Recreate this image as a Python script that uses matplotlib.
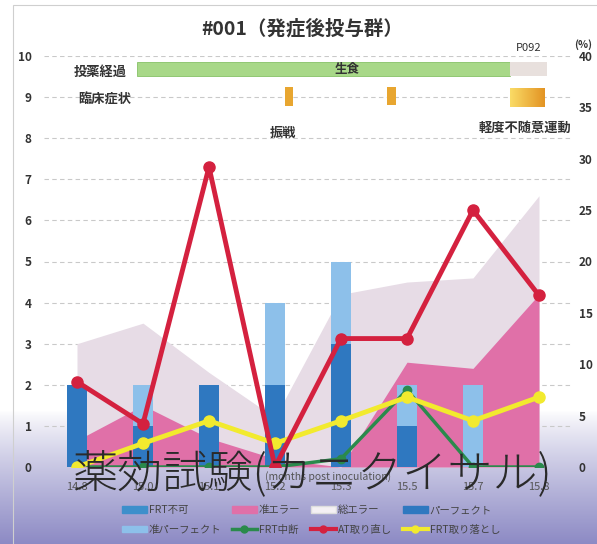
import numpy as np
import matplotlib.pyplot as plt
from matplotlib.patches import Patch, Rectangle
from matplotlib.lines import Line2D

plt.rcParams['font.family'] = ['Noto Sans CJK JP', 'DejaVu Sans']

# x categories (months post inoculation)
categories = ['14.8', '15.0', '15.1', '15.2', '15.3', '15.5', '15.7', '15.8']

# bars / areas (left axis, counts)
frt_fuka = [0, 0, 0, 0, 0, 0, 0, 0]
perfect = [2, 1, 2, 2, 3, 1, 0, 0]
jun_perfect = [0, 1, 0, 2, 2, 1, 2, 0]
total_error = [3.0, 3.5, 2.3, 1.2, 4.2, 4.5, 4.6, 6.6]
jun_error = [0.65, 1.5, 0.7, 0.2, 0.0, 2.55, 2.4, 4.2]

# lines (right axis, %)
frt_stop = [0, 0, 0, 0, 0.8, 7.5, 0, 0]
at_retake = [8.3, 4.2, 29.2, 0, 12.5, 12.5, 25.0, 16.7]
frt_drop = [0, 2.3, 4.5, 2.3, 4.5, 6.8, 4.5, 6.8]

W, H = 597, 544
def px(x, y):
    return x / W, 1 - y / H

fig = plt.figure(figsize=(W / 100, H / 100), dpi=100)

# background wash (scan-like gradient at the bottom)
bg = fig.add_axes([0, 0, 1, 1], zorder=-1)
rows = np.arange(H)
t = np.clip((rows - 410) / (H - 410), 0, 1) ** 0.85
top = np.array([1.0, 1.0, 1.0])
bot = np.array([0.55, 0.54, 0.77])
grad = (top[None, :] * (1 - t[:, None]) + bot[None, :] * t[:, None])[:, None, :]
bg.imshow(grad, aspect='auto', extent=[0, 1, 0, 1])
bg.axis('off')

ax = fig.add_axes([44 / W, (H - 467) / H, 528 / W, 411 / H])
ax.set_facecolor('none')
x = np.arange(len(categories))

ax.fill_between(x, total_error, color='#e7dce6', lw=0, zorder=1)
ax.fill_between(x, jun_error, color='#e070a8', lw=0, zorder=2)
ax.bar(x, perfect, 0.3, color='#2f78c0', zorder=3)
ax.bar(x, jun_perfect, 0.3, bottom=perfect, color='#8dc0ea', zorder=3)
ax.bar(x, frt_fuka, 0.3, bottom=np.add(perfect, jun_perfect), color='#3d8fcb', zorder=3)

# treatment / symptom strips
ax.add_patch(Rectangle((0.91, 9.51), 5.65, 0.34, facecolor='#a8d888', edgecolor='#86c266', lw=0.6, zorder=2))
ax.add_patch(Rectangle((6.56, 9.51), 0.56, 0.34, facecolor='#e8e0dd', edgecolor='none', zorder=2))
ax.add_patch(Rectangle((3.15, 8.78), 0.12, 0.46, facecolor='#e8a630', edgecolor='none', zorder=2))
ax.add_patch(Rectangle((4.70, 8.80), 0.13, 0.44, facecolor='#e8a630', edgecolor='none', zorder=2))
og = np.linspace(0, 1, 50)
ocol = np.array([0.98, 0.86, 0.40])[None, :] * (1 - og[:, None]) + np.array([0.89, 0.58, 0.14])[None, :] * og[:, None]
ax.imshow(ocol[None, :, :], aspect='auto', extent=[6.56, 7.09, 8.76, 9.22], zorder=2)

ax.set_xlim(-0.5, 7.5)
ax.set_ylim(0, 10)
ax.set_yticks(range(11))
ax.set_xticks(x, categories)
ax.yaxis.grid(True, linestyle=(0, (4, 3)), color='#c9c9c9', lw=0.8)
ax.set_axisbelow(True)
ax.tick_params(axis='y', length=0, pad=9, labelsize=8.5, labelcolor='#333')
ax.tick_params(axis='x', length=0, pad=11, labelsize=8, labelcolor='#555')
for lab in ax.get_yticklabels():
    lab.set_fontweight('bold')
for s in ax.spines.values():
    s.set_visible(False)

ax2 = ax.twinx()
ax2.plot(x, frt_stop, color='#2a8a4c', lw=2.5, marker='o', ms=6, zorder=2)
ax2.plot(x, frt_drop, color='#f2ea2e', lw=3.5, marker='o', ms=8, zorder=3)
ax2.plot(x, at_retake, color='#d4213f', lw=3.5, marker='o', ms=8, zorder=4)
ax2.set_ylim(0, 40)
ax2.set_yticks(range(0, 41, 5))
ax2.tick_params(axis='y', length=0, pad=5, labelsize=8.5, labelcolor='#333')
for lab in ax2.get_yticklabels():
    lab.set_fontweight('bold')
for s in ax2.spines.values():
    s.set_visible(False)

# texts
fig.text(*px(302, 29), '#001（発症後投与群）', ha='center', va='center', fontsize=14, fontweight='bold', color='#333')
fig.text(*px(100, 72), '投薬経過', ha='center', va='center', fontsize=9.5, fontweight='bold', color='#333')
fig.text(*px(105, 100), '臨床症状', ha='center', va='center', fontsize=9.5, fontweight='bold', color='#333')
fig.text(*px(347, 70), '生食', ha='center', va='center', fontsize=9, fontweight='bold', color='#333')
fig.text(*px(529, 48), 'P092', ha='center', va='center', fontsize=8, color='#333')
fig.text(*px(583, 45), '(%)', ha='center', va='center', fontsize=7.5, fontweight='bold', color='#333')
fig.text(*px(283, 133), '振戦', ha='center', va='center', fontsize=9.5, fontweight='bold', color='#333')
fig.text(*px(525, 128), '軽度不随意運動', ha='center', va='center', fontsize=9.5, fontweight='bold', color='#333')
fig.text(*px(328, 477), '(months post inoculation)', ha='center', va='center', fontsize=7.5, color='#555')

# legend
handles = [
    Patch(color='#3d8fcb', label='FRT不可'),
    Patch(color='#8dc0ea', label='准パーフェクト'),
    Patch(color='#e070a8', label='准エラー'),
    Line2D([], [], color='#2a8a4c', lw=2.5, marker='o', ms=5, label='FRT中断'),
    Patch(facecolor='#f4f0f4', edgecolor='#dddddd', label='総エラー'),
    Line2D([], [], color='#d4213f', lw=3, marker='o', ms=5, label='AT取り直し'),
    Patch(color='#2f78c0', label='パーフェクト'),
    Line2D([], [], color='#f2ea2e', lw=3, marker='o', ms=5, label='FRT取り落とし'),
]
fig.legend(handles=handles, ncol=4, loc='center', bbox_to_anchor=px(311, 520),
           frameon=False, fontsize=7.5, handlelength=2.4, handleheight=0.6,
           columnspacing=1.0, handletextpad=0.2, labelspacing=0.9, labelcolor='#444')

# overlaid caption
fig.text(*px(312, 474), '薬効試験(カニクイサル)', ha='center', va='center', fontsize=32.5,
         fontweight='light', color='#2a2a2a', zorder=10)

# frame
fig.add_artist(Rectangle((13 / W, -0.1), 1.2, 1.1 - 5 / H, transform=fig.transFigure,
                         fill=False, ec='#cfcfcf', lw=0.8))

fig.savefig('out.png', dpi=100)
